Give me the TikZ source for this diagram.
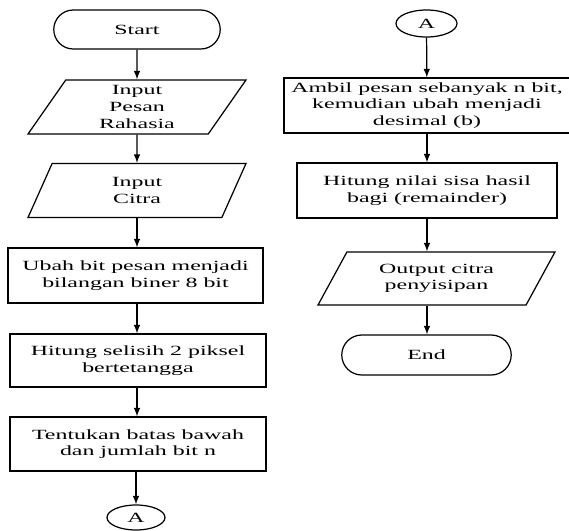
\documentclass[tikz,border=0pt]{standalone}
\usepackage{fontspec}
\setmainfont{Liberation Serif}[FakeStretch=1.7]
\usetikzlibrary{shapes.geometric,shapes.misc}

\begin{document}
\begin{tikzpicture}[x=0.02cm,y=-0.02cm,>=latex,
        every node/.style={draw,line width=0.7pt,align=center,inner sep=1pt,
                font=\fontsize{8}{9.5}\selectfont},
        term/.style={rounded rectangle,minimum height=0.78cm},
        io/.style={trapezium,trapezium stretches body,minimum height=1.08cm},
        proc/.style={rectangle,minimum height=1.1cm},
        conn/.style={ellipse,minimum width=1.2cm,minimum height=0.52cm}]
        \useasboundingbox (0,0) rectangle (569,531);
        % kolom kiri
        \node[term,minimum width=3.4cm] (start) at (137,29.5) {Start};
        \node[io,trapezium left angle=50.8,trapezium right angle=129.2,minimum width=4.36cm] (pesan) at (137,107) {Input\\Pesan\\Rahasia};
        \node[io,trapezium left angle=50.8,trapezium right angle=129.2,minimum width=4.36cm] (citra) at (137,190.5) {Input\\Citra};
        \node[proc,minimum width=5.1cm] (ubah) at (135.5,275.5) {Ubah bit pesan menjadi\\bilangan biner 8 bit};
        \node[proc,minimum width=5.12cm,minimum height=1.06cm] (selisih) at (138,360.5) {Hitung selisih 2 piksel\\bertetangga};
        \node[proc,minimum width=5.12cm,minimum height=1.08cm] (batas) at (138,444) {Tentukan batas bawah\\dan jumlah bit n};
        \node[conn,minimum width=1.16cm,minimum height=0.5cm] (a1) at (136,517.5) {A};
        % kolom kanan
        \node[conn,minimum width=1.22cm,minimum height=0.54cm] (a2) at (426.5,23.5) {A};
        \node[proc,minimum width=5.72cm] (ambil) at (427,105.5) {Ambil pesan sebanyak n bit,\\kemudian ubah menjadi\\desimal (b)};
        \node[proc,minimum width=5.2cm] (sisa) at (427,190.5) {Hitung nilai sisa hasil\\bagi (remainder)};
        \node[io,trapezium left angle=48.4,trapezium right angle=131.6,minimum width=4.74cm,minimum height=1.06cm] (output) at (436.5,278.5) {Output citra\\penyisipan};
        \node[term,minimum width=3.46cm,minimum height=0.8cm] (stop) at (426.5,355) {End};

        \draw[->,line width=0.7pt] (start) -- (pesan);
        \draw[->,line width=0.7pt] (pesan) -- (citra);
        \draw[->,line width=0.7pt] (citra.south) -- (citra.south |- ubah.north);
        \draw[->,line width=0.7pt] (ubah.south -| citra.south) -- (citra.south |- selisih.north);
        \draw[->,line width=0.7pt] (selisih.south -| citra.south) -- (citra.south |- batas.north);
        \draw[->,line width=0.7pt] (batas.south -| a1.north) -- (a1);
        \draw[->,line width=0.7pt] (a2) -- (ambil);
        \draw[->,line width=0.7pt] (ambil) -- (sisa);
        \draw[->,line width=0.7pt] (sisa.south) -- (sisa.south |- output.north);
        \draw[->,line width=0.7pt] (sisa.south |- output.south) -- (sisa.south |- stop.north);
\end{tikzpicture}
\end{document}
